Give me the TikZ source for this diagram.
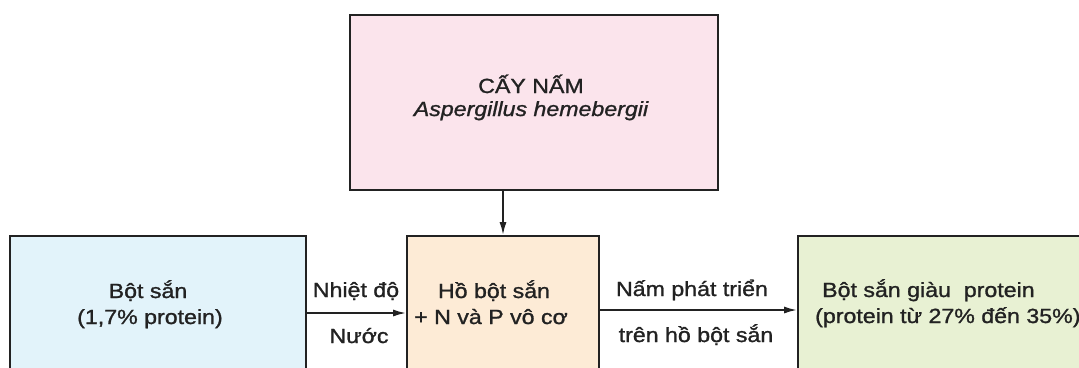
\documentclass[tikz,border=0pt]{standalone}
\usepackage{fontspec}
\setmainfont{Liberation Sans}[FakeStretch=1.13, FakeBold=1.2]
\usetikzlibrary{arrows.meta}
\definecolor{pinkbox}{HTML}{FBE4EC}
\definecolor{bluebox}{HTML}{E2F3FA}
\definecolor{peachbox}{HTML}{FDEBD6}
\definecolor{greenbox}{HTML}{E8F1D3}
\definecolor{ink}{HTML}{222222}
\tikzset{
  box/.style={draw=ink, line width=1.8pt, rectangle, inner sep=0pt},
  txt/.style={anchor=base, inner sep=0pt, text=ink, font=\fontsize{20.5}{26}\selectfont},
  arr/.style={draw=ink, line width=1.8pt, -{Latex[length=13pt,width=7pt]}}
}
\begin{document}
\begin{tikzpicture}[x=1pt,y=-1pt]
\useasboundingbox (0,0) rectangle (1079,367);
\clip (0,0) rectangle (1079,367);
\fill[white] (0,0) rectangle (1079,367);
% boxes
\node[box, fill=pinkbox, minimum width=368pt, minimum height=175pt] (top) at (534,102.5) {};
\node[box, fill=bluebox, minimum width=296pt, minimum height=154pt] (left) at (158,313) {};
\node[box, fill=peachbox, minimum width=192pt, minimum height=154pt] (mid) at (503,313) {};
\node[box, fill=greenbox, minimum width=400pt, minimum height=148pt] (right) at (998,310) {};
% texts
\node[txt] (t1) at (531,93) {CẤY NẤM};
\node[txt] (t2) at (531,116) {\itshape Aspergillus hemebergii};
\node[txt] (l1) at (148,298) {Bột sắn};
\node[txt] (l2) at (150,324) {(1,7\% protein)};
\node[txt] (m1) at (494,298) {Hồ bột sắn};
\node[txt] (m2) at (491,324) {+ N và P vô cơ};
\node[txt, anchor=base west] (r1) at (822,297) {Bột sắn giàu\ \ protein};
\node[txt, anchor=base west] (r2) at (815,323) {(protein từ 27\% đến 35\%)};
\node[txt] (a1) at (356,297) {Nhiệt độ};
\node[txt] (a2) at (359,343) {Nước};
\node[txt] (b1) at (692,296) {Nấm phát triển};
\node[txt] (b2) at (696,342) {trên hồ bột sắn};
% connectors
\draw[arr] (mid.north |- top.south) -- (mid.north);
\draw[arr] (left.east) -- (mid.west);
\draw[arr] (mid.east |- right.west) -- (right.west);
\end{tikzpicture}
\end{document}
